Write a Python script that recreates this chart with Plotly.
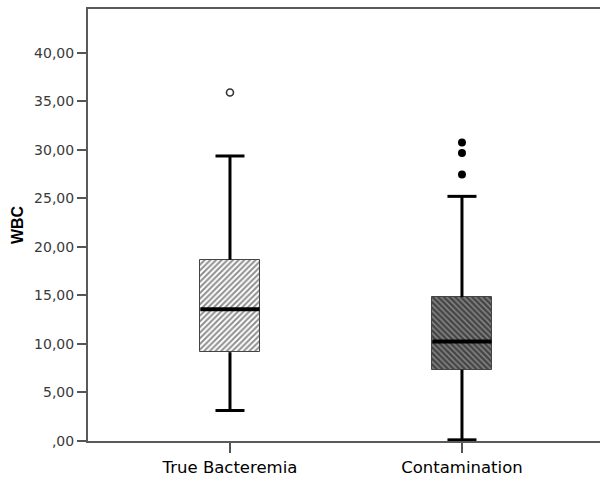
import plotly.graph_objects as go

categories = ["True Bacteremia", "Contamination"]
q1 = [9.15, 7.34]
median = [13.56, 10.26]
q3 = [18.68, 14.82]
lower_whisker = [3.14, 0.12]
upper_whisker = [29.36, 25.2]
mild_outliers = [[35.9], []]          # open circles
extreme_outliers = [[], [30.74, 29.67, 27.44]]  # filled dots
ytick_vals = [0, 5, 10, 15, 20, 25, 30, 35, 40]
ytick_text = [",00", "5,00", "10,00", "15,00", "20,00", "25,00", "30,00", "35,00", "40,00"]

box_w = 0.255
cap_half = 0.0625
pos = list(range(len(categories)))

fig = go.Figure()

patterns = [
    dict(shape="/", fgcolor="#1e1e1e", bgcolor="#ffffff", size=4, solidity=0.5),
    dict(shape="\\", fgcolor="#000000", bgcolor="#8c8c8c", size=4, solidity=0.65),
]
for i in pos:
    fig.add_trace(go.Bar(
        x=[i], y=[q3[i] - q1[i]], base=[q1[i]], width=box_w,
        marker=dict(color="white", pattern=patterns[i],
                    line=dict(color="#444444", width=1)),
        showlegend=False, hoverinfo="skip"))

# whiskers and caps
wx, wy = [], []
for i in pos:
    wx += [i, i, None, i, i, None,
           i - cap_half, i + cap_half, None, i - cap_half, i + cap_half, None]
    wy += [q3[i], upper_whisker[i], None, q1[i], lower_whisker[i], None,
           upper_whisker[i], upper_whisker[i], None, lower_whisker[i], lower_whisker[i], None]
fig.add_trace(go.Scatter(x=wx, y=wy, mode="lines",
                         line=dict(color="black", width=3),
                         showlegend=False, hoverinfo="skip"))

# medians
mx, my = [], []
for i in pos:
    mx += [i - box_w / 2, i + box_w / 2, None]
    my += [median[i], median[i], None]
fig.add_trace(go.Scatter(x=mx, y=my, mode="lines",
                         line=dict(color="black", width=4),
                         showlegend=False, hoverinfo="skip"))

# outliers
ox, oy = [], []
for i in pos:
    ox += [i] * len(mild_outliers[i])
    oy += mild_outliers[i]
fig.add_trace(go.Scatter(x=ox, y=oy, mode="markers",
                         marker=dict(symbol="circle", size=7, color="white",
                                     line=dict(color="#333333", width=1.6)),
                         showlegend=False))
ex, ey = [], []
for i in pos:
    ex += [i] * len(extreme_outliers[i])
    ey += extreme_outliers[i]
fig.add_trace(go.Scatter(x=ex, y=ey, mode="markers",
                         marker=dict(symbol="circle", size=8, color="black"),
                         showlegend=False))

fig.update_layout(
    width=600, height=479,
    margin=dict(l=88, r=0, t=9, b=38, autoexpand=False),
    plot_bgcolor="white", paper_bgcolor="white",
    font=dict(family="DejaVu Sans", color="#333333"),
    bargap=0,
    xaxis=dict(
        range=[-0.612, 1.595], tickvals=pos, ticktext=categories,
        tickfont=dict(size=16.5, color="black"),
        ticks="outside", ticklen=10, tickwidth=1.5, tickcolor="#555555",
        showline=True, linecolor="#5a5a5a", linewidth=2, mirror=True,
        showgrid=False, zeroline=False,
    ),
    yaxis=dict(
        range=[0, 44.5], tickvals=ytick_vals, ticktext=ytick_text,
        tickfont=dict(size=14, color="#3a3a3a"),
        ticks="outside", ticklen=9, tickwidth=1.5, tickcolor="#555555",
        showline=True, linecolor="#5a5a5a", linewidth=2,
        showgrid=False, zeroline=False,
        title=dict(text="<b>WBC</b>", font=dict(size=16, color="black",
                                                family="Liberation Sans"),
                   standoff=7),
    ),
)

fig.write_html("out.html", config={"displayModeBar": False},
               post_script="document.body.style.margin='0';document.body.style.overflow='hidden';")
